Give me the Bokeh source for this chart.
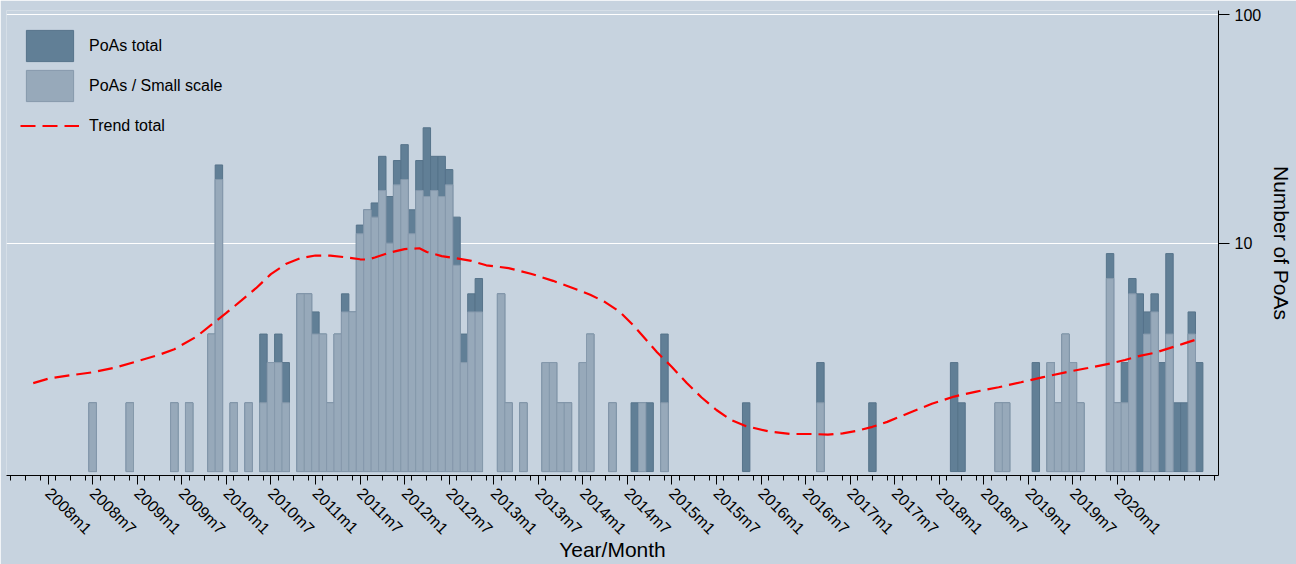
import math
from bokeh.plotting import figure
from bokeh.models import FixedTicker, Range1d, Legend, LegendItem, ColumnDataSource
from bokeh.embed import file_html
from bokeh.resources import INLINE

# ---------------- data ----------------
months = ["2008m7", "2008m12", "2009m6", "2009m8", "2009m11", "2009m12",
          "2010m2", "2010m4", "2010m6", "2010m7", "2010m8", "2010m9",
          "2010m11", "2010m12", "2011m1", "2011m2", "2011m3", "2011m4",
          "2011m5", "2011m6", "2011m7", "2011m8", "2011m9", "2011m10",
          "2011m11", "2011m12", "2012m1", "2012m2", "2012m3", "2012m4",
          "2012m5", "2012m6", "2012m7", "2012m8", "2012m9", "2012m10",
          "2012m11", "2013m2", "2013m3", "2013m5", "2013m8", "2013m9",
          "2013m10", "2013m11", "2014m1", "2014m2", "2014m5", "2014m8",
          "2014m9", "2014m10", "2014m12", "2015m11", "2016m9", "2017m4",
          "2018m3", "2018m4", "2018m9", "2018m10", "2019m2", "2019m4",
          "2019m5", "2019m6", "2019m7", "2019m8", "2019m12", "2020m1",
          "2020m2", "2020m3", "2020m4", "2020m5", "2020m6", "2020m7",
          "2020m8", "2020m9", "2020m10", "2020m11", "2020m12"]
poas_total = [2, 2, 2, 2, 4, 22,
              2, 2, 4, 3, 4, 3,
              6, 6, 5, 4, 2, 4,
              6, 5, 12, 14, 15, 24,
              16, 23, 27, 14, 23, 32,
              24, 24, 21, 13, 4, 6,
              7, 6, 2, 2, 3, 3,
              2, 2, 3, 4, 2, 2,
              2, 2, 4, 2, 3, 2,
              3, 2, 2, 2, 3, 3,
              2, 4, 3, 2, 9, 2,
              3, 7, 6, 5, 6, 3,
              9, 2, 2, 5, 3]
poas_small = [2, 2, 2, 2, 4, 19,
              2, 2, 2, 3, 3, 2,
              6, 6, 4, 4, 2, 4,
              5, 5, 11, 14, 13, 17,
              10, 18, 19, 11, 17, 16,
              17, 16, 18, 8, 3, 5,
              5, 6, 2, 2, 3, 3,
              2, 2, 3, 4, 2, 0,
              2, 0, 2, 0, 2, 0,
              0, 0, 2, 2, 0, 3,
              2, 4, 3, 2, 7, 2,
              2, 6, 0, 4, 5, 0,
              4, 0, 0, 4, 0]

trend_months = ["2007m11", "2008m1", "2008m4", "2008m7", "2008m10", "2009m1",
                "2009m4", "2009m6", "2009m9", "2009m11", "2010m1", "2010m3",
                "2010m5", "2010m7", "2010m9", "2010m11", "2011m1", "2011m3",
                "2011m5", "2011m7", "2011m8", "2011m9", "2011m11", "2012m1",
                "2012m3", "2012m4", "2012m6", "2012m8", "2012m10", "2012m12",
                "2013m3", "2013m6", "2013m9", "2013m11", "2014m2", "2014m4",
                "2014m6", "2014m8", "2014m11", "2015m1", "2015m3", "2015m5",
                "2015m7", "2015m9", "2015m11", "2016m2", "2016m5", "2016m8",
                "2016m10", "2016m12", "2017m2", "2017m4", "2017m6", "2017m9",
                "2017m12", "2018m3", "2018m6", "2018m9", "2018m12", "2019m3",
                "2019m6", "2019m9", "2019m12", "2020m2", "2020m4", "2020m6",
                "2020m8", "2020m10", "2020m12"]
trend_total = [2.44, 2.55, 2.64, 2.72, 2.85, 3.04,
               3.25, 3.43, 3.90, 4.40, 4.95, 5.60,
               6.35, 7.32, 8.10, 8.60, 8.83, 8.82,
               8.68, 8.50, 8.47, 8.65, 9.10, 9.42,
               9.50, 9.15, 8.78, 8.58, 8.36, 8.00,
               7.78, 7.35, 6.84, 6.48, 5.95, 5.52,
               5.00, 4.30, 3.33, 2.87, 2.44, 2.11,
               1.86, 1.68, 1.58, 1.50, 1.46, 1.46,
               1.45, 1.47, 1.51, 1.57, 1.65, 1.81,
               1.98, 2.13, 2.24, 2.34, 2.46, 2.59,
               2.72, 2.84, 2.97, 3.08, 3.21, 3.31,
               3.47, 3.64, 3.82]

tick_labels = ["2008m1", "2008m7", "2009m1", "2009m7", "2010m1", "2010m7",
               "2011m1", "2011m7", "2012m1", "2012m7", "2013m1", "2013m7",
               "2014m1", "2014m7", "2015m1", "2015m7", "2016m1", "2016m7",
               "2017m1", "2017m7", "2018m1", "2018m7", "2019m1", "2019m7",
               "2020m1"]
minor_first, minor_last = "2007m8", "2021m2"


def mindex(s):
    y, m = s.split("m")
    return (int(y) - 2008) * 12 + int(m) - 1


# ---------------- styling ----------------
BG = "#C7D3DF"
DARK = "#617F96"
DARK_LINE = "#56738A"
LIGHT = "#97A9BA"
LIGHT_LINE = "#8699AC"
FONT = "Liberation Sans"

p = figure(width=1296, height=564, output_backend="svg", toolbar_location=None,
           y_axis_type="log", y_axis_location="right",
           x_range=Range1d(-5.6, 157.6), y_range=Range1d(0.961, 104.4),
           min_border_left=6, min_border_top=10, min_border_right=74,
           min_border_bottom=89)
p.background_fill_color = BG
p.border_fill_color = BG
p.outline_line_color = None

x_bar = [mindex(m) for m in months]
src_total = ColumnDataSource(dict(x=x_bar, top=poas_total))
xs_small = [x for x, v in zip(x_bar, poas_small) if v > 0]
vs_small = [v for v in poas_small if v > 0]
src_small = ColumnDataSource(dict(x=xs_small, top=vs_small))

r_total = p.vbar(x="x", top="top", bottom=1, width=1.0, source=src_total,
                 fill_color=DARK, line_color=DARK_LINE, line_width=1)
r_small = p.vbar(x="x", top="top", bottom=1, width=1.0, source=src_small,
                 fill_color=LIGHT, line_color=LIGHT_LINE, line_width=1)
r_trend = p.line([mindex(m) for m in trend_months], trend_total,
                 line_color="#FF0000", line_width=2.2, line_dash="15 7")

# axes
major = [mindex(s) for s in tick_labels]
minor = list(range(mindex(minor_first), mindex(minor_last) + 1, 2))
xax = p.xaxis[0]
xax.ticker = FixedTicker(ticks=major, minor_ticks=minor)
xax.major_label_overrides = {t: s for t, s in zip(major, tick_labels)}
xax.major_label_orientation = -math.pi / 4
xax.major_tick_out = 9
xax.major_tick_in = 0
xax.minor_tick_out = 5
xax.minor_tick_in = 0
xax.major_label_standoff = 6
xax.major_label_text_font = FONT
xax.major_label_text_font_size = "16px"
xax.major_label_text_color = "#000000"
xax.axis_label = "Year/Month"
xax.axis_label_text_font = FONT
xax.axis_label_text_font_size = "21px"
xax.axis_label_text_font_style = "normal"
xax.axis_label_text_color = "#000000"
xax.axis_label_standoff = -8
xax.axis_line_color = "#000000"
xax.major_tick_line_color = "#000000"
xax.minor_tick_line_color = "#000000"

yax = p.yaxis[0]
yax.ticker = FixedTicker(ticks=[10, 100])
yax.major_label_overrides = {10: "10", 100: "100"}
yax.major_tick_out = 11
yax.major_tick_in = 0
yax.minor_tick_line_color = None
yax.major_label_standoff = 5
yax.major_label_text_font = FONT
yax.major_label_text_font_size = "16px"
yax.major_label_text_color = "#000000"
yax.axis_label = "Number of PoAs"
yax.axis_label_text_font = FONT
yax.axis_label_text_font_size = "21px"
yax.axis_label_text_font_style = "normal"
yax.axis_label_text_color = "#000000"
yax.axis_label_standoff = 6
yax.axis_line_color = "#000000"
yax.major_tick_line_color = "#000000"

p.xgrid.grid_line_color = None
p.ygrid.ticker = FixedTicker(ticks=[10, 100])
p.ygrid.grid_line_color = "#FFFFFF"
p.ygrid.grid_line_width = 1.2
p.ygrid.minor_grid_line_color = None

legend = Legend(items=[LegendItem(label="PoAs total", renderers=[r_total]),
                       LegendItem(label="PoAs / Small scale", renderers=[r_small]),
                       LegendItem(label="Trend total", renderers=[r_trend])],
                location=(14, 465 - 16 - 119), margin=0, padding=0,
                glyph_width=59, glyph_height=39, spacing=1, label_standoff=10,
                label_text_font=FONT, label_text_font_size="16px",
                label_text_color="#000000",
                background_fill_alpha=0, border_line_color=None)
p.add_layout(legend)

open("out.html", "w").write(file_html(p, INLINE))
